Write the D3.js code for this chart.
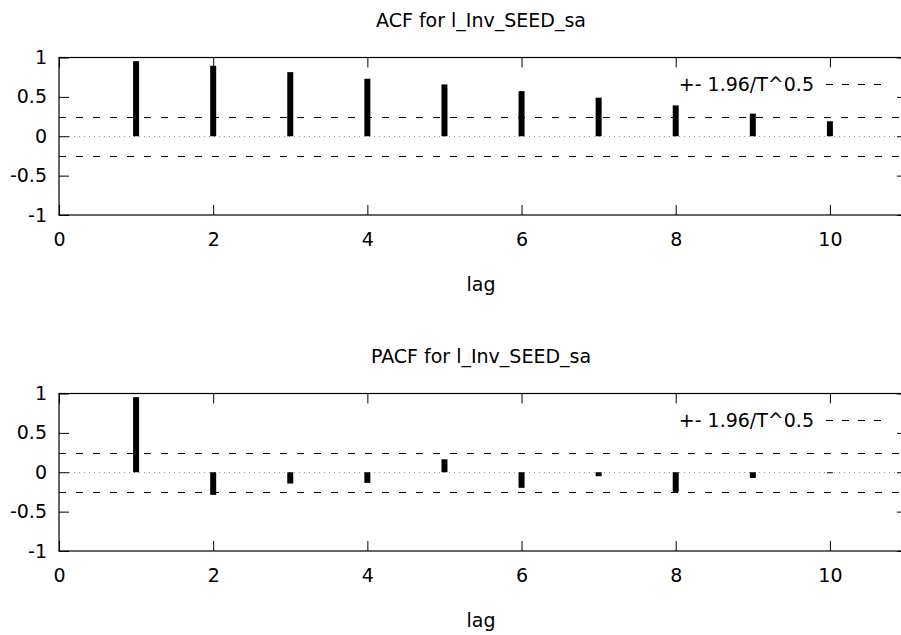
<!DOCTYPE html>
<html>
<head>
<meta charset="utf-8">
<script src="https://cdn.jsdelivr.net/npm/d3@7"></script>
<style>
  body { margin: 0; background: #fff; }
  svg { display: block; }
  text { font-family: "DejaVu Sans", Verdana, sans-serif; font-size: 19px; fill: #000; }
</style>
</head>
<body>
<div id="chart"></div>
<script>
// lags 1..10
const lags = [1, 2, 3, 4, 5, 6, 7, 8, 9, 10];
const acfValues = [0.953, 0.895, 0.814, 0.73, 0.658, 0.573, 0.49, 0.392, 0.287, 0.19];
const pacfValues = [0.953, -0.287, -0.143, -0.135, 0.165, -0.198, -0.05, -0.249, -0.072, -0.01];
const band = 0.25; // 1.96/sqrt(T)
const xTicks = [0, 2, 4, 6, 8, 10];
const yTicks = [-1, -0.5, 0, 0.5, 1];
const titles = ["ACF for l_Inv_SEED_sa", "PACF for l_Inv_SEED_sa"];
const legendLabel = "+- 1.96/T^0.5";

const width = 901, height = 635;
const left = 59, right = 907; // right edge falls just off the canvas
const plotH = 157.5;

const svg = d3.select("#chart").append("svg")
    .attr("width", width)
    .attr("height", height);

var x = d3.scaleLinear().domain([0, 11]).range([left, right]);

function drawPanel(top, title, values){
    var y = d3.scaleLinear().domain([-1, 1]).range([top + plotH, top]);
    var g = svg.append("g");

    // title and x label
    g.append("text")
        .attr("x", (left + right) / 2 - 2)
        .attr("y", top - 38)
        .attr("text-anchor", "middle")
        .attr("dominant-baseline", "central")
        .text(title);
    g.append("text")
        .attr("x", (left + right) / 2 - 2)
        .attr("y", top + 226)
        .attr("text-anchor", "middle")
        .attr("dominant-baseline", "central")
        .text("lag");

    // zero line (dotted) and confidence band (dashed)
    g.append("line")
        .attr("x1", left).attr("x2", right)
        .attr("y1", Math.round(y(0)) + 0.5).attr("y2", Math.round(y(0)) + 0.5)
        .attr("stroke", "#999").attr("stroke-width", 1)
        .attr("stroke-dasharray", "1,4");
    [band, -band].forEach(function(b){
        g.append("line")
            .attr("x1", left).attr("x2", right)
            .attr("y1", Math.round(y(b)) + 0.5).attr("y2", Math.round(y(b)) + 0.5)
            .attr("stroke", "#000").attr("stroke-width", 1)
            .attr("stroke-dasharray", "7,10");
    });

    // bars
    g.selectAll(".bar")
        .data(lags)
        .enter().append("rect")
        .attr("class", "bar")
        .attr("x", function(d) { return x(d) - 3; })
        .attr("width", 6)
        .attr("y", function(d, i) { return Math.min(y(0), y(values[i])); })
        .attr("height", function(d, i) { return Math.max(1, Math.abs(y(values[i]) - y(0))); })
        .attr("fill", "#000");

    // axes with inward ticks
    var bottomAxis = d3.axisBottom(x).tickValues(xTicks).tickSize(-10).tickPadding(18)
        .tickFormat(d3.format("d"));
    var topAxis = d3.axisTop(x).tickValues(xTicks).tickSize(-10).tickFormat("");
    var leftAxis = d3.axisLeft(y).tickValues(yTicks).tickSize(-10).tickPadding(12)
        .tickFormat(function(d) { return d; });
    var rightAxis = d3.axisRight(y).tickValues(yTicks).tickSize(-10).tickFormat("");

    [[bottomAxis, "translate(0," + (top + plotH) + ")"],
     [topAxis, "translate(0," + top + ")"],
     [leftAxis, "translate(" + left + ",0)"],
     [rightAxis, "translate(" + right + ",0)"]].forEach(function(a){
        var ag = g.append("g").attr("transform", a[1]).call(a[0]);
        ag.select(".domain").remove();
        ag.selectAll("line").attr("stroke", "#000");
        ag.selectAll("text").attr("font-size", null).attr("font-family", null);
    });
    svg.selectAll(".tick text").style("font-size", "19px");

    // frame
    g.append("rect")
        .attr("x", left).attr("y", top)
        .attr("width", right - left).attr("height", plotH)
        .attr("fill", "none").attr("stroke", "#000").attr("stroke-width", 1.2);

    // legend
    var ly = Math.round(top + 26);
    g.append("text")
        .attr("x", 814)
        .attr("y", ly)
        .attr("text-anchor", "end")
        .attr("dominant-baseline", "central")
        .text(legendLabel);
    g.append("line")
        .attr("x1", 826).attr("x2", 884)
        .attr("y1", ly + 0.5).attr("y2", ly + 0.5)
        .attr("stroke", "#000").attr("stroke-width", 1)
        .attr("stroke-dasharray", "7,9");
}

drawPanel(57.5, titles[0], acfValues);
drawPanel(393.5, titles[1], pacfValues);
</script>
</body>
</html>
